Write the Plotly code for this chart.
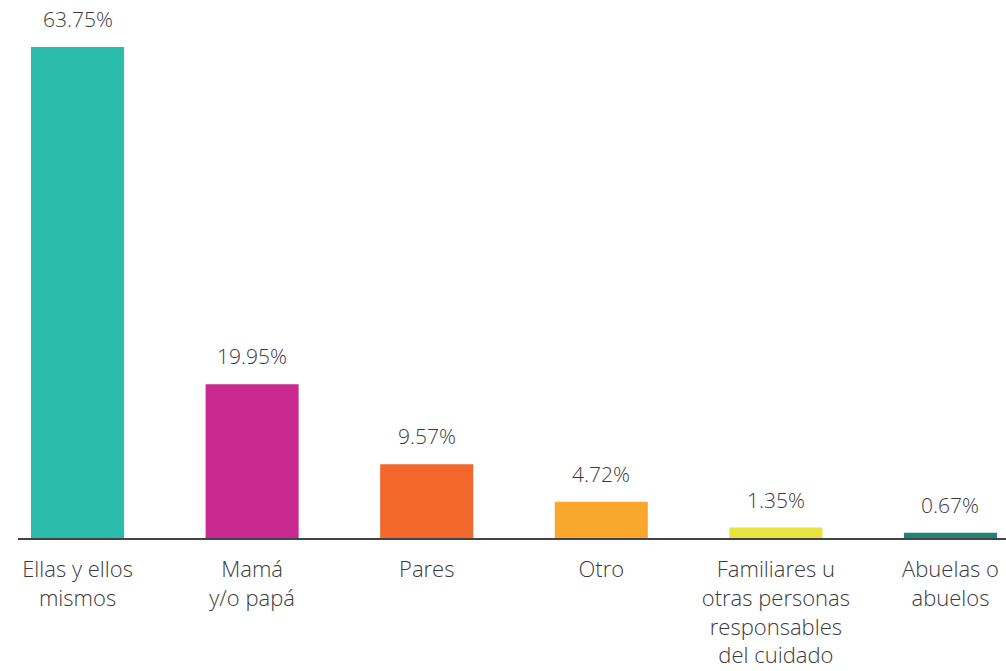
import plotly.graph_objects as go

categories = ["Ellas y ellos<br>mismos", "Mamá<br>y/o papá", "Pares", "Otro",
              "Familiares u<br>otras personas<br>responsables<br>del cuidado", "Abuelas o<br>abuelos"]
values = [63.75, 19.95, 9.57, 4.72, 1.35, 0.67]
labels = ["63.75%", "19.95%", "9.57%", "4.72%", "1.35%", "0.67%"]
colors = ["#2bbcab", "#c92a8f", "#f2672b", "#f9a72d", "#e8e33f", "#1f8573"]

FONT = "Open Sans"
x = list(range(len(values)))
fig = go.Figure(go.Bar(
    x=x, y=values,
    marker=dict(color=colors, line=dict(width=0)),
    width=0.533,
    hoverinfo="skip",
))
for xi, v, t in zip(x, values, labels):
    fig.add_annotation(x=xi, y=v, text=t, showarrow=False, yanchor="bottom",
                       yshift=12, font=dict(size=21, color="#3a3a3a", family=FONT, weight=300))
fig.update_layout(
    width=1006, height=671,
    margin=dict(l=18, r=0, t=0, b=133),
    plot_bgcolor="white", paper_bgcolor="white",
    showlegend=False,
    font=dict(family=FONT, color="#3a3a3a"),
    xaxis=dict(range=[-0.341, 5.318], tickmode="array", tickvals=x, ticktext=categories,
               showline=True, linecolor="#444", linewidth=2, showgrid=False, ticks="",
               ticklabelstandoff=11,
               tickfont=dict(size=22, family=FONT, weight=300, color="#3a3a3a"), zeroline=False),
    yaxis=dict(range=[0, 69.85], visible=False, showgrid=False, zeroline=False),
)
fig.write_html("out.html", config={"displayModeBar": False},
               post_script="document.body.style.margin='0';")
